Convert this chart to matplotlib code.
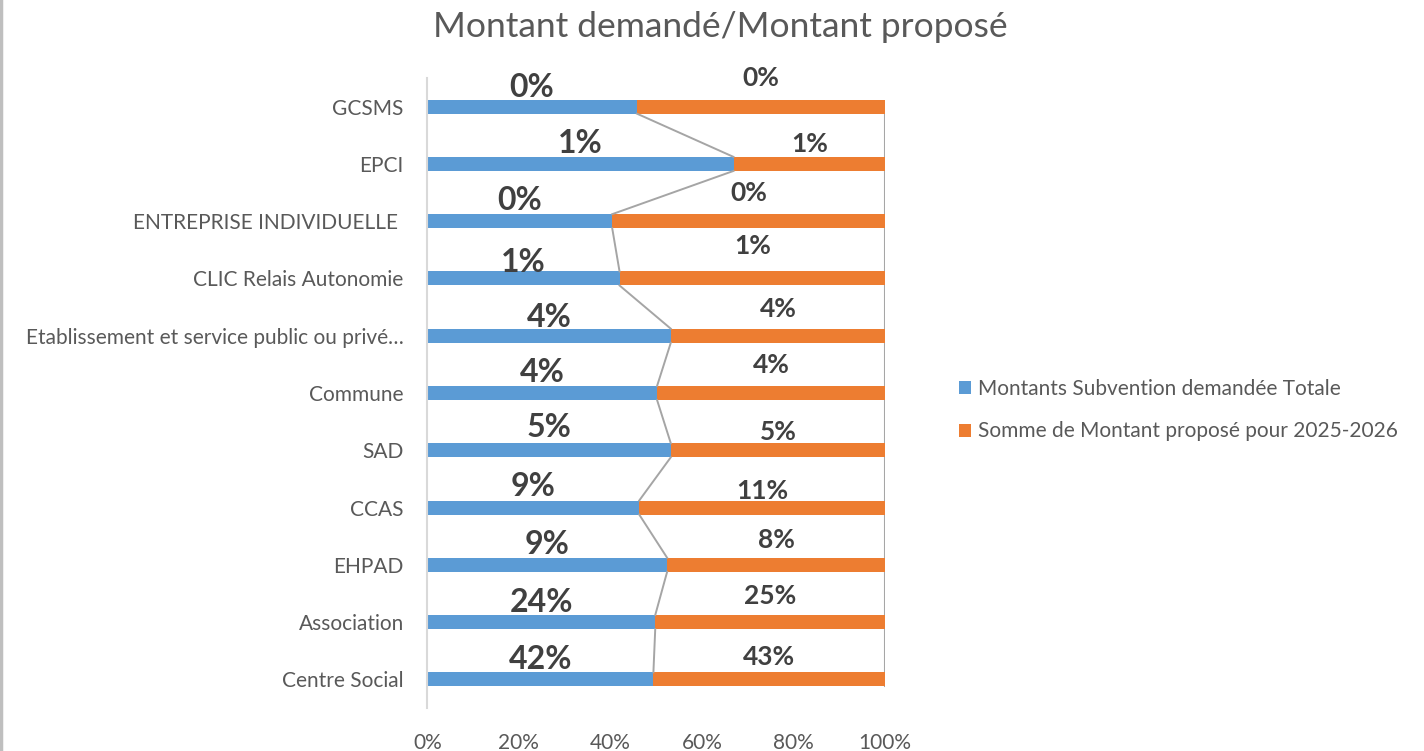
import numpy as np
import matplotlib.pyplot as plt

plt.rcParams['font.family'] = ['Lato', 'DejaVu Sans']

# Données (du bas vers le haut)
categories = ['Centre Social', 'Association', 'EHPAD', 'CCAS', 'SAD', 'Commune',
              'Etablissement et service public ou privé…', 'CLIC Relais Autonomie',
              'ENTREPRISE INDIVIDUELLE ', 'EPCI', 'GCSMS']
# part (en %) de la barre 100 % pour chaque série
pct_demande = [49.4, 49.8, 52.4, 46.3, 53.2, 50.2, 53.2, 42.0, 40.4, 66.9, 45.8]
pct_propose = [100 - v for v in pct_demande]
# étiquettes de données (part du total de chaque série)
lab_demande = ['42%', '24%', '9%', '9%', '5%', '4%', '4%', '1%', '0%', '1%', '0%']
lab_propose = ['43%', '25%', '8%', '11%', '5%', '4%', '4%', '1%', '0%', '1%', '0%']

series = ['Montants Subvention demandée Totale', 'Somme de Montant proposé pour 2025-2026']
c_blue = '#5B9BD5'
c_orange = '#ED7D31'
txt = '#595959'

fig = plt.figure(figsize=(14.24, 7.51), dpi=100)
ax = fig.add_axes([427.3 / 1424, 43 / 751, 457.7 / 1424, 630 / 751])

y = np.arange(len(categories))
h = 0.245
ax.barh(y, pct_demande, height=h, color=c_blue, label=series[0])
ax.barh(y, pct_propose, left=pct_demande, height=h, color=c_orange, label=series[1])

# lignes de série
for k in range(1, len(y)):
    ax.plot([pct_demande[k], pct_demande[k - 1]], [k - h / 2, k - 1 + h / 2],
            color='#A5A5A5', lw=1.4, zorder=1)

# trait à 100 %
ax.plot([100, 100], [len(y) - 1, -h / 2], color='#A6A6A6', lw=1.5, zorder=0)

# étiquettes (décalage vertical en pixels)
off_b = [20, 20, 20, 21, 23, 20, 18, 16, 21, 20, 19]
off_o = [22, 26, 25, 17, 18, 28, 27, 32, 28, 20, 29]
for k in range(len(y)):
    xb = pct_demande[k] / 2
    xo = pct_demande[k] + pct_propose[k] / 2
    ax.annotate(lab_demande[k], (xb, k), xytext=(0, off_b[k] * 0.72),
                textcoords='offset points', ha='center', va='center',
                fontsize=23, fontweight='bold', color='#404040')
    ax.annotate(lab_propose[k], (xo, k), xytext=(0, off_o[k] * 0.72),
                textcoords='offset points', ha='center', va='center',
                fontsize=19, fontweight='bold', color='#404040')

ax.set_xlim(0, 100)
ax.set_ylim(-0.5, len(y) - 0.5)
ax.set_yticks(y)
ax.set_yticklabels(categories, fontsize=15, color=txt)
ax.set_xticks([0, 20, 40, 60, 80, 100])
ax.set_xticklabels(['0%', '20%', '40%', '60%', '80%', '100%'], fontsize=15, color=txt)
ax.tick_params(axis='y', length=0, pad=17)
ax.tick_params(axis='x', length=0, pad=18)
for s in ['top', 'right', 'bottom']:
    ax.spines[s].set_visible(False)
ax.spines['left'].set_color('#D9D9D9')
ax.spines['left'].set_linewidth(1.5)

fig.text(0.5055, 1 - 27 / 751, 'Montant demandé/Montant proposé', ha='center', va='center',
         fontsize=25.5, color=txt)

fig.legend(loc='center left', bbox_to_anchor=(940 / 1424, 1 - 410 / 751), frameon=False,
           fontsize=15, labelcolor=txt, handlelength=0.6, handleheight=0.6,
           handletextpad=0.3, labelspacing=1.1)

# cadre à gauche
fig.add_artist(plt.Line2D([0.001, 0.001], [0, 1], color='#BFBFBF', lw=2.5, transform=fig.transFigure))

fig.savefig('out.png', dpi=100)
